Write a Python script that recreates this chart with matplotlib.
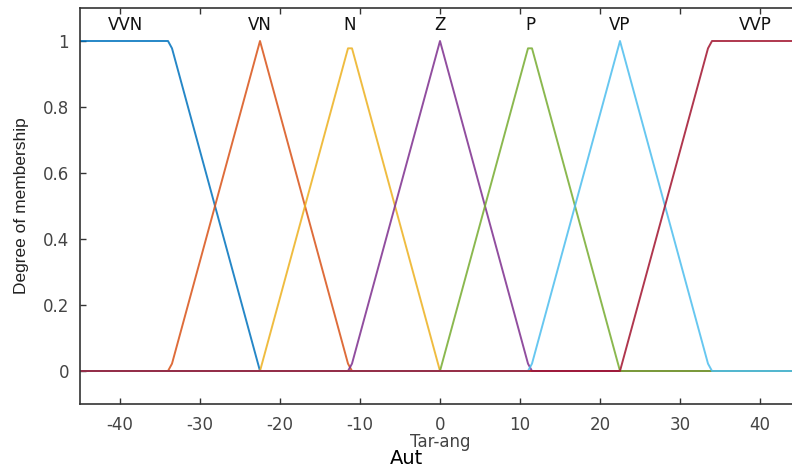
import numpy as np
import matplotlib.pyplot as plt

# membership functions of Tar-ang (MATLAB style, 181 sample points)
x_range = [-45, 45]
n_points = 181
mf_names = ["VVN", "VN", "N", "Z", "P", "VP", "VVP"]
mf_types = ["trap", "tri", "tri", "tri", "tri", "tri", "trap"]
mf_params = [
    [-56.25, -45, -33.75, -22.5],
    [-33.75, -22.5, -11.25],
    [-22.5, -11.25, 0],
    [-11.25, 0, 11.25],
    [0, 11.25, 22.5],
    [11.25, 22.5, 33.75],
    [22.5, 33.75, 45, 56.25],
]
label_x = [-39.375, -22.5, -11.25, 0, 11.25, 22.5, 39.375]
colors = ["#0072BD", "#D95319", "#EDB120", "#7E2F8E", "#77AC30", "#4DBEEE", "#A2142F"]


def trimf(x, p):
    a, b, c = p
    return np.maximum(np.minimum((x - a) / (b - a), (c - x) / (c - b)), 0)


def trapmf(x, p):
    a, b, c, d = p
    return np.clip(np.minimum((x - a) / (b - a), (d - x) / (d - c)), 0, 1)


def main():
    plt.rcParams["axes.unicode_minus"] = False
    x = np.linspace(x_range[0], x_range[1], n_points)
    fig = plt.figure(figsize=(7.92, 4.68), dpi=100)
    ax = fig.add_axes([80 / 792, 64 / 468, 720 / 792, 396 / 468])

    for name, kind, p, lx, c in zip(mf_names, mf_types, mf_params, label_x, colors):
        y = trapmf(x, p) if kind == "trap" else trimf(x, p)
        ax.plot(x, y, color=c, lw=1.4, alpha=0.85)
        ax.text(lx, 1.048, name, ha="center", va="center", fontsize=12,
                family="DejaVu Sans", color="#111111")

    ax.set_xlim(-45, 45)
    ax.set_ylim(-0.1, 1.1)
    ax.set_xticks([-40, -30, -20, -10, 0, 10, 20, 30, 40])
    ax.set_yticks([0, 0.2, 0.4, 0.6, 0.8, 1])
    ax.set_yticklabels(["0", "0.2", "0.4", "0.6", "0.8", "1"])
    ax.tick_params(direction="in", top=True, right=True, length=4, width=1,
                   color="#333333", labelcolor="#444444", labelsize=12)
    ax.tick_params(axis="x", pad=9)
    ax.tick_params(axis="y", pad=8)
    for lab in ax.get_xticklabels() + ax.get_yticklabels():
        lab.set_family("DejaVu Sans")
    for s in ax.spines.values():
        s.set_color("#333333")
        s.set_linewidth(1.2)

    ax.set_xlabel("Tar-ang", fontsize=12, family="DejaVu Sans", color="#444444", labelpad=-1)
    ax.set_ylabel("Degree of membership", fontsize=12.5, family="Liberation Sans",
                  color="#222222", labelpad=10)

    fig.text(390 / 792, 0.0, "Aut", fontsize=14, family="DejaVu Sans",
             color="black", ha="left", va="bottom")

    fig.savefig("out.png", dpi=100)
    plt.close(fig)


if __name__ == "__main__":
    main()
